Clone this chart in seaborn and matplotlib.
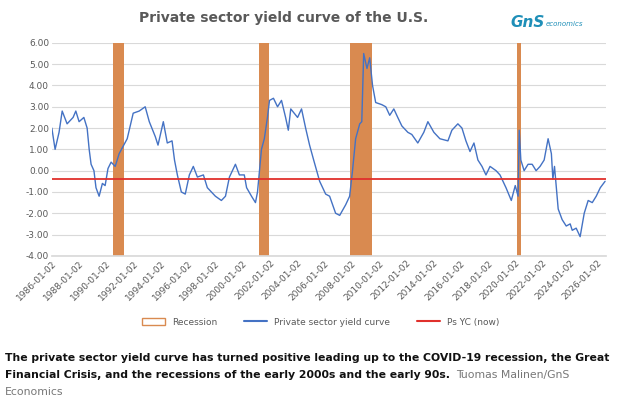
import numpy as np
import pandas as pd
import matplotlib
matplotlib.use("Agg")
import matplotlib.pyplot as plt
import seaborn as sns
from matplotlib.patches import Patch
from matplotlib.lines import Line2D

# Data (years since 1986-01-02, curve value)
years_since_1986 = [0, .24, .53, .76, 1.12, 1.56, 1.76, 2.0, 2.35, 2.59, 2.74, 2.88, 3.09, 3.24,
                    3.47, 3.71, 3.91, 4.12, 4.35, 4.65, 4.94, 5.53, 5.97, 6.41, 6.85, 7.15, 7.59,
                    7.79, 8.18, 8.47, 8.82, 9.0, 9.21, 9.5, 9.79, 10.09, 10.38, 10.68, 11.12,
                    11.41, 12.0, 12.44, 12.74, 13.03, 13.47, 13.76, 14.12, 14.29, 14.65, 14.94,
                    15.09, 15.38, 15.59, 15.82, 15.97, 16.26, 16.56, 16.85, 17.15, 17.35, 17.53,
                    18.03, 18.32, 18.62, 18.91, 19.21, 19.65, 20.09, 20.38, 20.82, 21.12, 21.56,
                    21.85, 22.06, 22.29, 22.59, 22.74, 22.88, 23.12, 23.32, 23.53, 23.76, 24.21,
                    24.5, 24.79, 25.09, 25.38, 25.68, 26.12, 26.41, 26.85, 27.29, 27.59, 28.03,
                    28.47, 29.06, 29.35, 29.79, 30.09, 30.38, 30.68, 30.97, 31.26, 31.56, 31.85,
                    32.15, 32.59, 32.88, 33.32, 33.71, 34.0, 34.21, 34.29, 34.41, 34.65, 34.94,
                    35.24, 35.53, 35.82, 36.12, 36.41, 36.65, 36.76, 36.88, 37.15, 37.44, 37.74,
                    38.03, 38.18, 38.47, 38.76, 39.06, 39.35, 39.65, 39.94, 40.24, 40.59]
yield_curve = [2.0, 1.0, 1.8, 2.8, 2.2, 2.5, 2.8, 2.3, 2.5, 2.0, 1.0, 0.3, 0.0, -0.8,
               -1.2, -0.6, -0.7, 0.1, 0.4, 0.2, 0.8, 1.5, 2.7, 2.8, 3.0, 2.3, 1.6,
               1.2, 2.3, 1.3, 1.4, 0.5, -0.2, -1.0, -1.1, -0.2, 0.2, -0.3, -0.2,
               -0.8, -1.2, -1.4, -1.2, -0.3, 0.3, -0.2, -0.2, -0.8, -1.2, -1.5,
               -1.0, 1.0, 1.5, 2.5, 3.3, 3.4, 3.0, 3.3, 2.5, 1.9, 2.9,
               2.5, 2.9, 2.0, 1.2, 0.5, -0.5, -1.1, -1.2, -2.0, -2.1, -1.6,
               -1.2, 0.0, 1.5, 2.2, 2.3, 5.5, 4.8, 5.3, 4.0, 3.2, 3.1,
               3.0, 2.6, 2.9, 2.5, 2.1, 1.8, 1.7, 1.3, 1.8, 2.3, 1.8,
               1.5, 1.4, 1.9, 2.2, 2.0, 1.4, 0.9, 1.3, 0.5, 0.2, -0.2,
               0.2, 0.0, -0.2, -0.8, -1.4, -0.7, -1.2, 1.9, 0.5, 0.0, 0.3,
               0.3, 0.0, 0.2, 0.5, 1.5, 0.8, -0.4, 0.2, -1.8, -2.3, -2.6,
               -2.5, -2.8, -2.7, -3.1, -2.0, -1.4, -1.5, -1.2, -0.8, -0.5]
recessions = [(1990.5, 1991.3), (2001.2, 2001.9), (2007.9, 2009.5), (2020.1, 2020.4)]
ps_yc_now = -0.4
tick_years = list(range(1986, 2027, 2))
tick_labels = [f"{y}-01-02" for y in tick_years]

df = pd.DataFrame({"year": [1986 + t for t in years_since_1986], "value": yield_curve})

sns.set_theme(style="white")
plt.rcParams['font.family'] = ['DejaVu Sans']

BLUE = "#4472C4"
ORANGE = "#D98A50"
RED = "#E0302C"

fig = plt.figure(figsize=(6.17, 4.01), dpi=100)
ax = fig.add_axes([0.084, 0.362, 0.898, 0.531])

for start, end in recessions:
    ax.axvspan(start, end, color=ORANGE, zorder=1, lw=0)
sns.lineplot(data=df, x="year", y="value", color=BLUE, lw=1.0, ax=ax, zorder=3)
ax.axhline(ps_yc_now, color=RED, lw=1.3, zorder=4)

ax.set_xlim(1986, 2026.65)
ax.set_ylim(-4, 6)
ax.set_yticks(np.arange(-4, 7, 1))
ax.set_yticklabels([f"{v:.2f}" for v in np.arange(-4, 7, 1)], fontsize=6.5, color="#595959")
ax.set_xticks(tick_years)
ax.set_xticklabels(tick_labels, rotation=45, ha="right", rotation_mode="anchor",
                   fontsize=6.5, color="#595959")
ax.grid(axis="y", color="#D9D9D9", lw=0.8, zorder=0)
ax.set_xlabel("")
ax.set_ylabel("")
for s in ["top", "right", "left"]:
    ax.spines[s].set_visible(False)
ax.spines["bottom"].set_color("#D9D9D9")
ax.tick_params(axis="both", length=0, pad=2)

fig.text(0.46, 0.955, "Private sector yield curve of the U.S.", ha="center", va="center",
         fontsize=10, fontweight="bold", color="#595959")
fig.text(0.855, 0.945, "GnS", ha="center", va="center", fontsize=11, color="#1F8FB8",
         fontstyle="italic", fontweight="bold")
fig.text(0.885, 0.94, "economics", ha="left", va="center", fontsize=5, color="#1F8FB8",
         fontstyle="italic")

handles = [Patch(facecolor="white", edgecolor=ORANGE, label="Recession"),
           Line2D([], [], color=BLUE, lw=1.5, label="Private sector yield curve"),
           Line2D([], [], color=RED, lw=1.5, label="Ps YC (now)")]
fig.legend(handles=handles, loc="center", bbox_to_anchor=(0.52, 0.197), ncol=3,
           frameon=False, fontsize=6.5, labelcolor="#595959", columnspacing=3,
           handlelength=2.5)

cap_size = 7.8
fig.text(0.008, 0.108, "The private sector yield curve has turned positive leading up to the COVID-19 recession, the Great",
         fontsize=cap_size, fontweight="bold", color="#111111", va="center")
line2 = fig.text(0.008, 0.065, "Financial Crisis, and the recessions of the early 2000s and the early 90s.",
                 fontsize=cap_size, fontweight="bold", color="#111111", va="center")
fig.canvas.draw()
bb = line2.get_window_extent().transformed(fig.transFigure.inverted())
fig.text(bb.x1 + 0.01, 0.065, "Tuomas Malinen/GnS", fontsize=cap_size, color="#777777", va="center")
fig.text(0.008, 0.022, "Economics", fontsize=cap_size, color="#777777", va="center")

fig.savefig("out.png", dpi=100, facecolor="white")
